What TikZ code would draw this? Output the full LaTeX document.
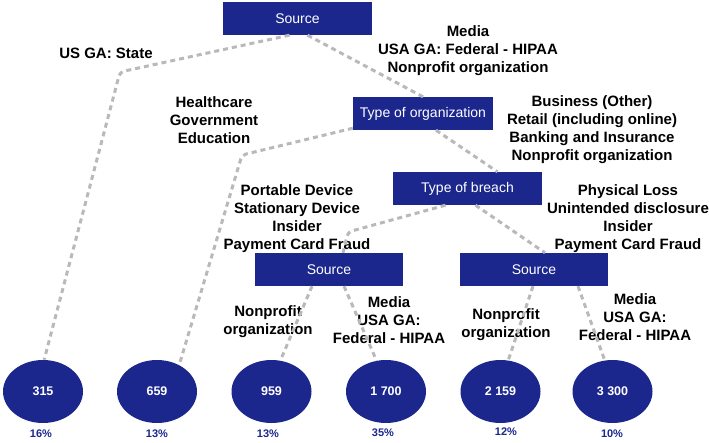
\documentclass[tikz,border=0pt]{standalone}
\usepackage{fontspec}
\setmainfont{Liberation Sans}
\usetikzlibrary{calc,shapes.geometric}
\definecolor{boxblue}{RGB}{27,39,140}
\definecolor{linegray}{RGB}{185,185,185}
\tikzset{
  box/.style={fill=boxblue, text=white, minimum height=33pt, inner sep=0pt,
    font=\fontsize{14}{16}\selectfont},
  leaf/.style={ellipse, fill=boxblue, text=white, minimum width=80pt, minimum height=63pt,
    inner sep=0pt, font=\bfseries\fontsize{12.5}{14}\selectfont},
  lbl/.style={align=center, inner sep=0pt, font=\bfseries\fontsize{15}{18}\selectfont},
  pct/.style={inner sep=0pt, text=boxblue, font=\bfseries\fontsize{11}{13}\selectfont},
  conn/.style={draw=linegray, line width=3pt, dash pattern=on 5pt off 4pt, rounded corners=4pt},
}
\begin{document}
\begin{tikzpicture}[x=1pt,y=-1pt]
\useasboundingbox (0,0) rectangle (709,442);
% boxes
\node[box, minimum width=149pt] (src1) at (297.5,18.5) {Source};
\node[box, minimum width=140pt] (org) at (423,113.5) {Type of organization};
\node[box, minimum width=149pt] (breach) at (467.5,188.5) {Type of breach};
\node[box, minimum width=148pt] (src2) at (329,269.5) {Source};
\node[box, minimum width=148pt] (src3) at (534,269.5) {Source};
% leaves
\node[leaf] (e1) at (43,391.5) {315};
\node[leaf] (e2) at (157,391.5) {659};
\node[leaf] (e3) at (271.5,391.5) {959};
\node[leaf] (e4) at (386,391.5) {1 700};
\node[leaf] (e5) at (500.5,391.5) {2 159};
\node[leaf] (e6) at (612.5,391.5) {3 300};
% percentages
\node[pct] (p1) at (41,434) {16\%};
\node[pct] (p2) at (157,434) {13\%};
\node[pct] (p3) at (268,434) {13\%};
\node[pct] (p4) at (383,433) {35\%};
\node[pct] (p5) at (506,432) {12\%};
\node[pct] (p6) at (612,434) {10\%};
% labels
\node[lbl] (l1) at (106,53) {US GA: State};
\node[lbl] (l2) at (468,50.5) {Media\\USA GA: Federal - HIPAA\\Nonprofit organization};
\node[lbl] (l3) at (214,120.5) {Healthcare\\Government\\Education};
\node[lbl] (l4) at (592,130) {Business (Other)\\Retail (including online)\\Banking and Insurance\\Nonprofit organization};
\node[lbl] (l5) at (297,218.5) {Portable Device\\Stationary Device\\Insider\\Payment Card Fraud};
\node[lbl] (l6) at (628,218.5) {Physical Loss\\Unintended disclosure\\Insider\\Payment Card Fraud};
\node[lbl] (l7) at (268,321.5) {Nonprofit\\organization};
\node[lbl] (l8) at (389,320.5) {Media\\USA GA:\\Federal - HIPAA};
\node[lbl] (l9) at (506,324.5) {Nonprofit\\organization};
\node[lbl] (l10) at (635,317.5) {Media\\USA GA:\\Federal - HIPAA};
% corner coordinates
\coordinate (k1) at (120,72);
\coordinate (k2) at (242,155);
\coordinate (k3) at (348,232);
% connectors
\draw[conn] ($(src1.south)+(-8,0)$) -- (k1) -- (e1.88);
\draw[conn] ($(src1.south)+(10,0)$) -- (org.north);
\draw[conn] ($(org.south)+(13,0)$) -- ($(breach.north)+(30,0)$);
\draw[conn] ($(org.south west)+(0,-2)$) -- (k2) -- (e2.50);
\draw[conn] ($(breach.south)+(-22,0)$) -- (k3) -- ($(src2.north)+(14,0)$);
\draw[conn] ($(breach.south)+(8,0)$) -- ($(src3.north)+(11,0)$);
\draw[conn] ($(src2.south)+(-17,0)$) -- (e3.74);
\draw[conn] ($(src2.south)+(15,0)$) -- (e4.107);
\draw[conn] ($(src3.south)+(-1,0)$) -- (e5.76);
\draw[conn] ($(src3.south)+(44,0)$) -- (e6.104);
\end{tikzpicture}
\end{document}
